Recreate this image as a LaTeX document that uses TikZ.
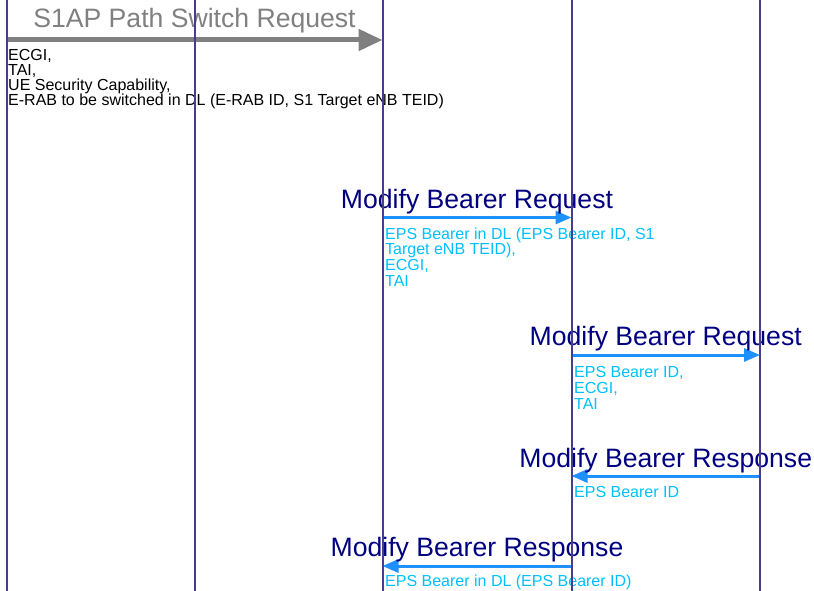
\documentclass[tikz,border=0pt]{standalone}
\usepackage{fontspec}
\setmainfont{Liberation Sans}
\usetikzlibrary{arrows.meta,positioning}
\definecolor{lifeblue}{HTML}{483D8B}
\definecolor{msgblue}{HTML}{1E90FF}
\definecolor{parblue}{HTML}{00BFFF}
\definecolor{ttlnavy}{HTML}{000080}
\definecolor{sgray}{HTML}{808080}
\tikzset{
  lifeline/.style={draw=lifeblue, line width=2pt},
  s1msg/.style={draw=sgray, line width=5pt, -{Triangle[length=24pt,width=21pt]}},
  msg/.style={draw=msgblue, line width=3pt, -{Triangle[length=16pt,width=13pt]}},
  ttl/.style={anchor=base, inner sep=0pt, font=\fontsize{26.6}{30}\selectfont, text=ttlnavy},
  par/.style={inner sep=0pt, align=left, font=\fontsize{16}{15.6}\selectfont, text=parblue},
}

\begin{document}
\begin{tikzpicture}[x=1pt, y=-1pt]
\useasboundingbox (0,0) rectangle (814,591);
\foreach \n/\x in {tenb/6.5, senb/194.5, mme/382.5, sgw/571.5, pgw/760}{
  \coordinate (\n-top) at (\x,0);
  \coordinate (\n-bot) at (\x,591);
}
\coordinate (tenb-1) at (6.5,40);   \coordinate (mme-1) at (382.5,40);
\coordinate (mme-2) at (382.5,217.5); \coordinate (sgw-2) at (571.5,217.5);
\coordinate (sgw-3) at (571.5,355);   \coordinate (pgw-3) at (760,355);
\coordinate (pgw-4) at (760,476);     \coordinate (sgw-4) at (571.5,476);
\coordinate (sgw-5) at (571.5,566);   \coordinate (mme-5) at (382.5,566);

% S1AP path switch
\draw[s1msg] (tenb-1) -- node[ttl, text=sgray, yshift=12pt] {S1AP Path Switch Request} (mme-1);
\node[par, text=black, below right=9pt and 1.5pt of tenb-1, font=\fontsize{16}{15}\selectfont] (psrpar)
  {ECGI,\\TAI,\\UE Security Capability,\\E-RAB to be switched in DL (E-RAB ID, S1 Target eNB TEID)};

% modify bearer request / response
\draw[msg] (mme-2) -- node[ttl, yshift=9.5pt] {Modify Bearer Request} (sgw-2);
\node[par, below right=10pt and 2.5pt of mme-2] (mbr1par)
  {EPS Bearer in DL (EPS Bearer ID, S1\\Target eNB TEID),\\ECGI,\\TAI};

\draw[msg] (sgw-3) -- node[ttl, yshift=10pt] {Modify Bearer Request} (pgw-3);
\node[par, below right=11.5pt and 2.5pt of sgw-3] (mbr2par)
  {EPS Bearer ID,\\ECGI,\\TAI};

\draw[msg] (pgw-4) -- node[ttl, yshift=9pt] {Modify Bearer Response} (sgw-4);
\node[par, below right=10.5pt and 2.5pt of sgw-4] (mbs1par) {EPS Bearer ID};

\draw[msg] (sgw-5) -- node[ttl, yshift=10pt] {Modify Bearer Response} (mme-5);
\node[par, below right=9pt and 2.5pt of mme-5] (mbs2par) {EPS Bearer in DL (EPS Bearer ID)};

% lifelines on top
\foreach \n in {tenb, senb, mme, sgw, pgw}
  \draw[lifeline] (\n-top) -- (\n-bot);
\end{tikzpicture}
\end{document}
